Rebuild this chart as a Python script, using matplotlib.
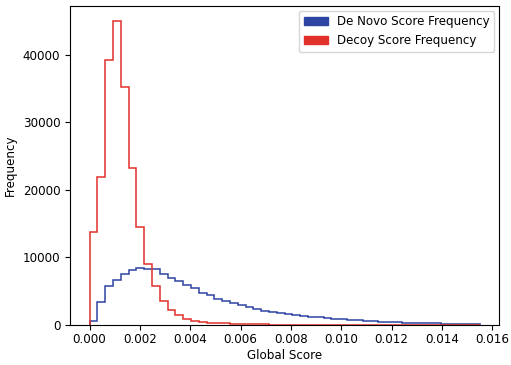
import numpy as np
import matplotlib.pyplot as plt
from matplotlib.patches import Patch

# 50 bins from 0 to 0.0155
bin_edges = np.linspace(0, 0.0155, 51)

denovo_counts = [600, 3400, 5800, 6700, 7600, 8100, 8400, 8300, 8250, 7500,
                 7000, 6500, 5900, 5400, 4700, 4400, 3900, 3600, 3200, 2900,
                 2600, 2350, 2100, 1900, 1750, 1600, 1450, 1300, 1200, 1100,
                 1000, 900, 820, 740, 670, 600, 540, 480, 430, 380,
                 340, 300, 260, 230, 200, 170, 140, 120, 100, 80]

decoy_counts = [13700, 21900, 39300, 45000, 35300, 23300, 14500, 9000, 5700, 3500,
                2200, 1400, 900, 600, 400, 320, 250, 200, 160, 130,
                100, 80, 60, 50, 40, 30, 25, 20, 15, 12,
                10, 8, 6, 5, 4, 3, 2, 2, 1, 1,
                0, 0, 0, 0, 0, 0, 0, 0, 0, 0]

blue = "#2e44a2"
red = "#e2302a"

plt.rcParams["font.size"] = 8.6

fig, ax = plt.subplots(figsize=(5.11, 3.65), dpi=100)
fig.subplots_adjust(left=0.137, right=0.977, top=0.984, bottom=0.11)

centers = (bin_edges[:-1] + bin_edges[1:]) / 2
ax.hist(centers, bins=bin_edges, weights=denovo_counts, histtype="step", color=blue, linewidth=1.1)
ax.hist(centers, bins=bin_edges, weights=decoy_counts, histtype="step", color=red, linewidth=1.1)

ax.set_xticks(np.arange(0, 0.0161, 0.002))
ax.tick_params(axis="x", pad=2.5)
ax.set_xlabel("Global Score", labelpad=2)
ax.set_ylabel("Frequency")

handles = [Patch(color=blue, label="De Novo Score Frequency"),
           Patch(color=red, label="Decoy Score Frequency")]
ax.legend(handles=handles, loc="upper right", borderaxespad=0.4)

fig.savefig("out.png")
